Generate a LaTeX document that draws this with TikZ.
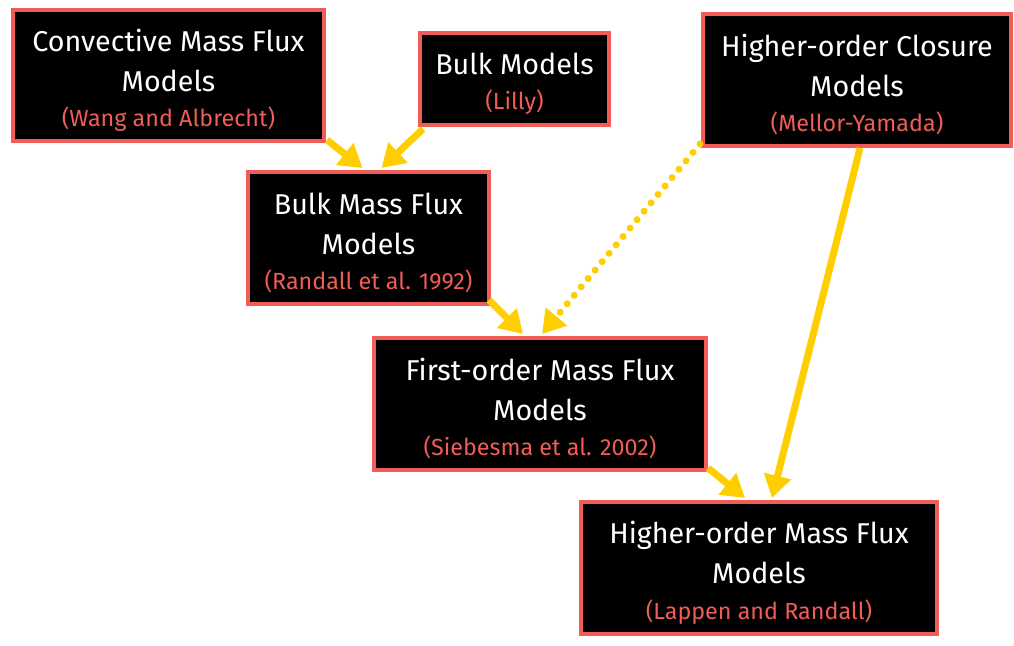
\documentclass[tikz,border=0pt]{standalone}
\usepackage{fontspec}
\setmainfont{Fira Sans}
\usetikzlibrary{arrows.meta,calc}
\definecolor{salmon}{RGB}{240,92,86}
\definecolor{gold}{RGB}{255,206,0}
\begin{document}
\begin{tikzpicture}[x=0.75pt,y=-0.75pt,
  box/.style={draw=salmon,fill=black,line width=3pt,inner sep=0pt,
    label={[txt]center:{#1}}},
  txt/.style={align=center,text=white,yshift=-3.5pt,font=\fontsize{21.5}{30}\selectfont},
  arr/.style={draw=gold,line width=5.25pt,-{Triangle[length=17pt,width=20pt]}},
  dotarr/.style={arr,line cap=round,dash pattern=on 0pt off 8.2pt}]
\newcommand{\mycite}[1]{\\[-3.5pt]{\fontsize{17.5}{18}\selectfont\color{salmon}#1}}
\path[use as bounding box] (0,0) rectangle (1014,646);
\node[box={Convective Mass Flux\\Models\mycite{(Wang and Albrecht)}},minimum width=311*0.75pt,minimum height=131*0.75pt] (A) at (168.5,75.5) {};
\node[box={Bulk Models\mycite{(Lilly)}},minimum width=189*0.75pt,minimum height=92*0.75pt] (B) at (514.5,79) {};
\node[box={Higher-order Closure\\Models\mycite{(Mellor-Yamada)}},minimum width=308*0.75pt,minimum height=132*0.75pt] (C) at (857,80) {};
\node[box={Bulk Mass Flux\\Models\mycite{(Randall et al. 1992)}},minimum width=241*0.75pt,minimum height=132*0.75pt] (D) at (368.5,238) {};
\node[box={First-order Mass Flux\\Models\mycite{(Siebesma et al. 2002)}},minimum width=332*0.75pt,minimum height=132*0.75pt] (E) at (540,404) {};
\node[box={Higher-order Mass Flux\\Models\mycite{(Lappen and Randall)}},minimum width=356*0.75pt,minimum height=132*0.75pt] (F) at (759,568) {};
\draw[arr] ($(A.south east)+(1,-3)$) -- ($(D.north)+(-6,-2)$);
\draw[arr] ($(B.south west)+(5,2)$) -- ($(D.north)+(13,-2)$);
\draw[arr] ($(D.south east)+(-2,-6)$) -- ($(E.north)+(-17,-2)$);
\draw[dotarr] ($(C.south west)+(-1,-4)$) -- ($(E.north)+(2,-2)$);
\draw[arr] ($(E.south east)+(0,-4)$) -- ($(F.north)+(-14,-2)$);
\draw[arr] ($(C.south)+(3,0)$) -- ($(F.north)+(13,-2)$);
\end{tikzpicture}
\end{document}
